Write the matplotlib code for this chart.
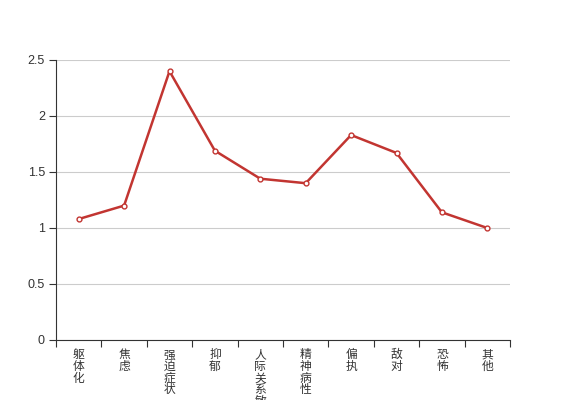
import numpy as np
import matplotlib.pyplot as plt

plt.rcParams['font.family'] = ['Noto Sans CJK SC', 'DejaVu Sans']

categories = ['躯体化', '焦虑', '强迫症状', '抑郁', '人际关系敏感', '精神病性', '偏执', '敌对', '恐怖', '其他']
values = [1.08, 1.2, 2.4, 1.69, 1.44, 1.4, 1.83, 1.67, 1.14, 1.0]
y_ticks = [0, 0.5, 1, 1.5, 2, 2.5]
y_labels = ['0', '0.5', '1', '1.5', '2', '2.5']

fig = plt.figure(figsize=(5.67, 4.0), dpi=100)
ax = fig.add_axes([56 / 567, 0.15, (510 - 56) / 567, 0.70])

x = np.arange(len(categories))
ax.plot(x, values, color='#c23531', lw=1.8, marker='o', ms=3.5,
        markerfacecolor='white', markeredgecolor='#c23531', markeredgewidth=1, zorder=3)

ax.set_xlim(-0.5, len(categories) - 0.5)
ax.set_ylim(0, 2.5)
ax.set_yticks(y_ticks)
ax.set_yticklabels(y_labels, fontsize=9, color='#333333', family='Liberation Sans')
ax.yaxis.grid(True, color='#cccccc', lw=0.8)
ax.set_axisbelow(True)

# category boundary ticks
ax.set_xticks(np.arange(len(categories) + 1) - 0.5)
ax.set_xticklabels([])
ax.tick_params(axis='x', direction='out', length=5, color='#333333')
ax.tick_params(axis='y', direction='out', length=5, color='#333333', pad=3)

for i, name in enumerate(categories):
    ax.text(i, -0.03, '\n'.join(name), transform=ax.get_xaxis_transform(),
            ha='center', va='top', fontsize=8.5, color='#333333', linespacing=0.87,
            clip_on=False)

for side in ['top', 'right']:
    ax.spines[side].set_visible(False)
ax.spines['left'].set_color('#333333')
ax.spines['bottom'].set_color('#333333')

fig.savefig('out.png', dpi=100)
